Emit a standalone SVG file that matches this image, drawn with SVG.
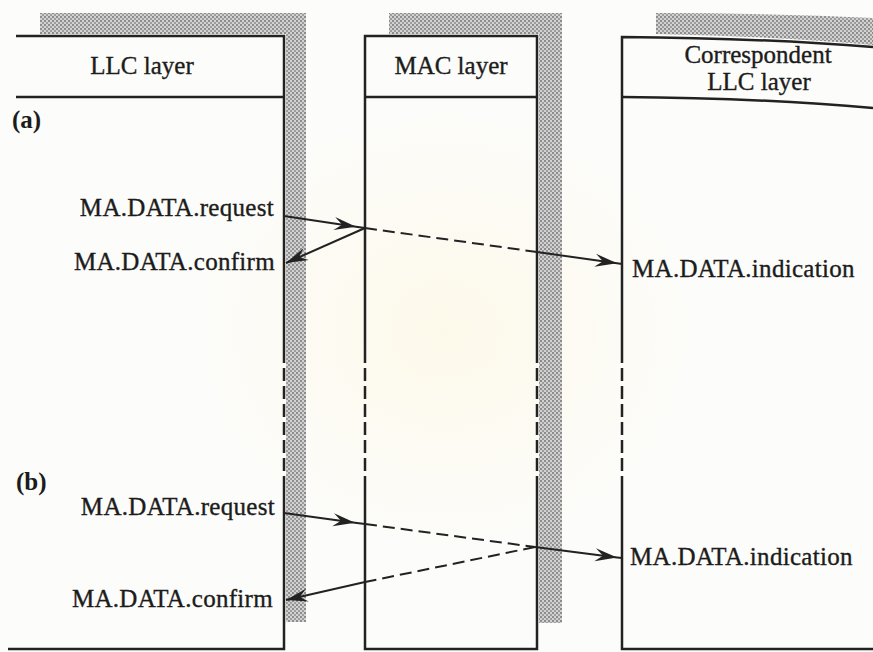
<svg xmlns="http://www.w3.org/2000/svg" width="873" height="652" viewBox="0 0 873 652">
  <style>
    .edge { fill: none; stroke: #222; stroke-width: 2.5; }
    .dash { stroke-dasharray: 13 5; }
    .flow { fill: none; stroke: #222; stroke-width: 2; }
    .flowdash { fill: none; stroke: #222; stroke-width: 2; stroke-dasharray: 12 6; }
    .shade { fill: url(#tone); }
    text { font-family: "Liberation Serif", "Times New Roman", serif; font-size: 25px; fill: #1c1c1c; stroke: #1c1c1c; stroke-width: 0.35; }
    .lbl { letter-spacing: 0.3px; }
    .part { font-weight: bold; stroke-width: 0; }
  </style>
  <defs>
    <pattern id="tone" width="4" height="4" patternUnits="userSpaceOnUse">
      <rect width="4" height="4" fill="#d2d2d2"/>
      <rect width="2" height="2" fill="#8c8c8c"/>
      <rect x="2" y="2" width="2" height="2" fill="#9c9c9c"/>
    </pattern>
    <marker id="head" markerUnits="userSpaceOnUse" markerWidth="30" markerHeight="20" viewBox="-24 -10 26 20" refX="0" refY="0" orient="auto">
      <path d="M0,0 L-22,-6.5 Q-16,-1.5 -14,0 Q-16,1.5 -22,6.5 Z" fill="#222"/>
    </marker>
    <radialGradient id="glow" cx="0.5" cy="0.5" r="0.5">
      <stop offset="0" stop-color="#fdf9ea"/>
      <stop offset="1" stop-color="#fcfcfa"/>
    </radialGradient>
  </defs>

  <!-- paper -->
  <rect width="873" height="652" fill="#fcfcfa"/>
  <ellipse cx="445" cy="330" rx="250" ry="220" fill="url(#glow)"/>

  <!-- LLC layer -->
  <g id="llc">
    <polygon class="shade" points="40,13 306,13 306,622 286,622 286,34 40,34"/>
    <path class="edge" d="M16,36 H284 V350"/>
    <path class="edge dash" d="M284,350 V477"/>
    <path class="edge" d="M284,477 V649 H8"/>
    <path class="edge" d="M16,97 H284"/>
    <text x="142" y="74" text-anchor="middle">LLC layer</text>
  </g>

  <!-- MAC layer -->
  <g id="mac">
    <polygon class="shade" points="389,13 562,13 562,623 539,623 539,34 389,34"/>
    <path class="edge" d="M365,350 V36 H537 V350"/>
    <path class="edge dash" d="M365,350 V476"/>
    <path class="edge dash" d="M537,350 V477"/>
    <path class="edge" d="M365,476 V649 H537 V477"/>
    <path class="edge" d="M365,97 H537"/>
    <text x="451" y="74" text-anchor="middle">MAC layer</text>
  </g>

  <!-- Correspondent LLC layer -->
  <g id="corr">
    <path class="shade" d="M656,13 Q770,13 873,18 V45 Q770,36 656,34 Z"/>
    <path class="edge" d="M622,350 V37 Q760,38 873,47"/>
    <path class="edge dash" d="M622,350 V478"/>
    <path class="edge" d="M622,478 V649 H873"/>
    <path class="edge" d="M622,97 Q760,98 873,108"/>
    <text x="758" y="63" text-anchor="middle">Correspondent</text>
    <text x="759" y="90" text-anchor="middle">LLC layer</text>
  </g>

  <!-- case labels and primitive names -->
  <g id="labels">
    <text class="part" x="12" y="128">(a)</text>
    <text class="part" x="16" y="490">(b)</text>
    <text class="lbl" x="274" y="216" text-anchor="end">MA.DATA.request</text>
    <text class="lbl" x="275" y="270" text-anchor="end">MA.DATA.confirm</text>
    <text class="lbl" x="632" y="277">MA.DATA.indication</text>
    <text class="lbl" x="275" y="515" text-anchor="end">MA.DATA.request</text>
    <text class="lbl" x="273" y="607" text-anchor="end">MA.DATA.confirm</text>
    <text class="lbl" x="630" y="565">MA.DATA.indication</text>
  </g>

  <!-- primitive exchanges -->
  <g id="connectors">
    <!-- (a) confirm returned by the MAC layer -->
    <path class="flow" d="M284,216 L356,226.7 L365,228" marker-mid="url(#head)"/>
    <path class="flowdash" d="M365,228 L537,252"/>
    <path class="flow" d="M537,252 L617,263.3 L622,264" marker-mid="url(#head)"/>
    <path class="flow" d="M365,228 L286,263" marker-end="url(#head)"/>

    <!-- (b) confirm returned after delivery -->
    <path class="flow" d="M284,513 L355,522.7 L365,524" marker-mid="url(#head)"/>
    <path class="flowdash" d="M365,524 L535,547"/>
    <path class="flow" d="M535,547 L617,557.4 L622,558" marker-mid="url(#head)"/>
    <path class="flowdash" d="M535,547 L365,582"/>
    <path class="flow" d="M365,582 L286,600" marker-end="url(#head)"/>
  </g>
</svg>
